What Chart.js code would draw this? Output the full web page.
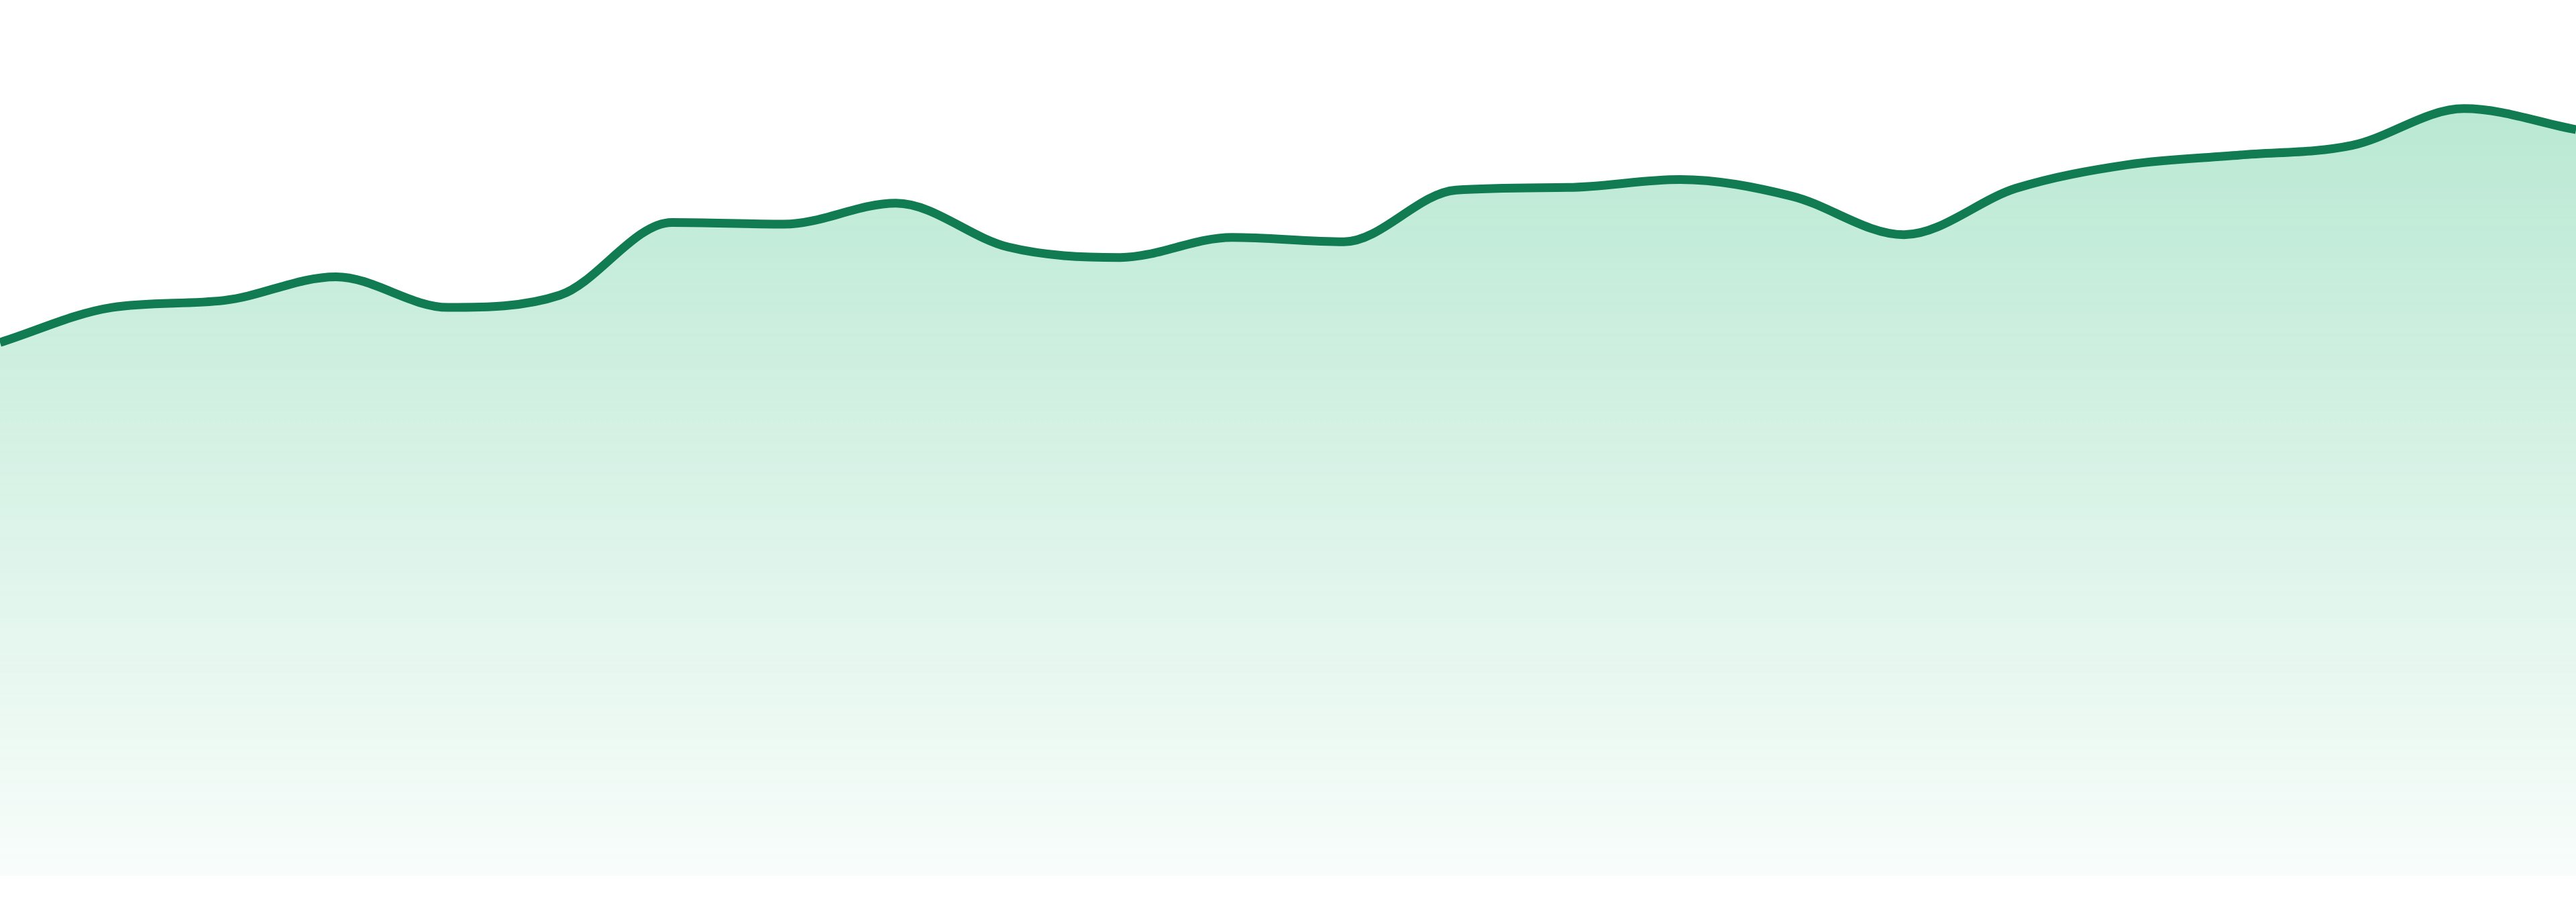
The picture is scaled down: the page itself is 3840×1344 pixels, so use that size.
<!DOCTYPE html>
<html>
<head>
<meta charset="utf-8">
<title>Area chart</title>
<script src="https://cdn.jsdelivr.net/npm/chart.js@4.4.1/dist/chart.umd.min.js"></script>
<style>
  html, body { margin: 0; padding: 0; background: #ffffff; overflow: hidden; }
  canvas { display: block; }
</style>
</head>
<body>
<canvas id="areaChart" width="3840" height="1344" style="width:3840px;height:1344px"></canvas>
<script>
// data
const labels = ['1','2','3','4','5','6','7','8','9','10','11','12',
                '13','14','15','16','17','18','19','20','21','22','23','24'];
const values = [60.9, 64.9, 65.7, 68.4, 64.9, 66.3, 74.6, 74.4, 76.8, 71.8, 70.6, 72.9,
                72.4, 78.3, 78.6, 79.5, 77.6, 73.2, 78.5, 81.2, 82.3, 83.4, 87.6, 85.2];
const yMin = 0;
const yMax = 100;

const lineColor = '#117b52';

// vertical gradient under the line
function areaFill(context) {
  const chart = context.chart;
  const area = chart.chartArea;
  if (!area) return 'rgba(30,180,110,0.2)';
  const g = chart.ctx.createLinearGradient(0, area.top + 160, 0, area.bottom);
  g.addColorStop(0, 'rgba(30,182,112,0.31)');
  g.addColorStop(0.5, 'rgba(30,182,112,0.17)');
  g.addColorStop(1, 'rgba(30,182,112,0.03)');
  return g;
}

new Chart(document.getElementById('areaChart'), {
  type: 'line',
  data: {
    labels: labels,
    datasets: [{
      data: values,
      borderColor: lineColor,
      borderWidth: 13,
      backgroundColor: areaFill,
      fill: 'start',
      pointRadius: 0,
      pointHoverRadius: 0,
      cubicInterpolationMode: 'monotone'
    }]
  },
  options: {
    responsive: false,
    devicePixelRatio: 1,
    animation: false,
    layout: { padding: { top: 0, right: 0, bottom: 39, left: 0 } },
    plugins: { legend: { display: false }, tooltip: { enabled: false } },
    scales: {
      x: { display: false, offset: false },
      y: { display: false, min: yMin, max: yMax }
    }
  }
});
</script>
</body>
</html>
